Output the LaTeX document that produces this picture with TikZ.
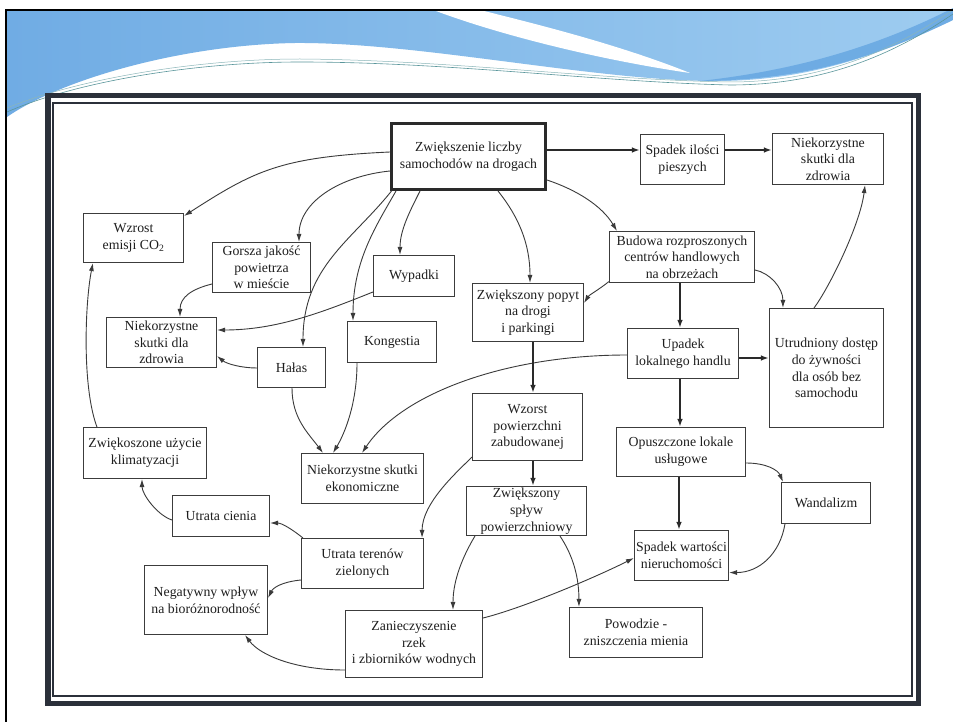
\documentclass[tikz,border=0pt]{standalone}
\usepackage{fontspec}
\setmainfont{Liberation Serif}
\usetikzlibrary{arrows.meta}
\definecolor{boxline}{HTML}{3C3C3C}
\definecolor{edge}{HTML}{3A3A3A}
\definecolor{edgedark}{HTML}{2A2A2A}
\definecolor{txt}{HTML}{1E1E1E}
\definecolor{framedark}{HTML}{2B303A}
\definecolor{hdrA}{RGB}{112,172,228}
\definecolor{hdrB}{RGB}{158,204,240}
\definecolor{hdrC}{RGB}{100,165,225}
\definecolor{teal}{RGB}{90,150,155}
\begin{document}
\begin{tikzpicture}[x=1pt,y=-1pt,
  box/.style={draw=boxline, line width=1.1pt, fill=white, inner sep=0pt, align=center,
    font=\fontsize{13.8}{16.7}\selectfont, text=txt},
  arr/.style={draw=edge, line width=0.9pt, -{Latex[length=8pt,width=5pt]}},
  tarr/.style={draw=edgedark, line width=1.8pt, -{Latex[length=8pt,width=5.5pt]}}]
\useasboundingbox (0,0) rectangle (953,722);
\fill[white] (0,0) rectangle (953,722);
% header
\shade[left color=hdrA, right color=hdrB] (7,11) -- (953,11) -- (953,20)
  .. controls (880,55) and (810,80) .. (720,81)
  .. controls (600,82) and (420,42) .. (295,43)
  .. controls (180,45) and (60,80) .. (7,117) -- cycle;
\fill[hdrC, opacity=0.8] (700,81) .. controls (810,80) and (880,55) .. (953,20) -- (953,8)
  .. controls (880,45) and (800,70) .. (700,81) -- cycle;
\fill[white] (436,11) .. controls (500,35) and (600,60) .. (690,73)
  .. controls (620,45) and (540,25) .. (484,11) -- cycle;
\draw[teal, line width=0.6pt] (7,112) .. controls (80,80) and (200,62) .. (300,62)
  .. controls (450,62) and (600,82) .. (730,85) .. controls (830,85) and (900,50) .. (953,14);
\draw[teal!70, line width=0.5pt] (7,108) .. controls (80,78) and (200,59) .. (300,59)
  .. controls (450,60) and (600,80) .. (730,82) .. controls (830,82) and (900,45) .. (953,10);
\draw[black, line width=1.3pt] (6,722) -- (6,10) -- (953,10);
% frame
\draw[framedark, line width=5.5pt] (47.75,95.75) rectangle (918.25,703.25);
\draw[framedark, line width=1.3pt] (53,103) rectangle (912,696);
% nodes
\node[box, line width=3pt, draw=edgedark, minimum width=154pt, minimum height=66pt] (central) at (468.5,156.5) {Zwiększenie liczby\\samochodów na drogach};
\node[box, minimum width=84pt, minimum height=50pt] (spadek) at (682.5,159.5) {Spadek ilości\\pieszych};
\node[box, minimum width=111pt, minimum height=51pt] (nzR) at (828,159) {Niekorzystne\\skutki dla\\zdrowia};
\node[box, minimum width=100pt, minimum height=49pt] (wzrost) at (133.5,238) {Wzrost\\emisji CO\textsubscript{2}};
\node[box, minimum width=98pt, minimum height=50pt] (gorsza) at (261.5,267.5) {Gorsza jakość\\powietrza\\w mieście};
\node[box, minimum width=81pt, minimum height=41pt] (wypadki) at (414,276) {Wypadki};
\node[box, minimum width=110pt, minimum height=50pt] (nzL) at (161.5,342.5) {Niekorzystne\\skutki dla\\zdrowia};
\node[box, minimum width=89pt, minimum height=41pt] (kongestia) at (392,342) {Kongestia};
\node[box, minimum width=68pt, minimum height=40pt] (halas) at (291.5,367.5) {Hałas};
\node[box, minimum width=145pt, minimum height=51pt] (budowa) at (682,257) {Budowa rozproszonych\\centrów handlowych\\na obrzeżach};
\node[box, minimum width=111pt, minimum height=58pt] (popyt) at (528,312.5) {Zwiększony popyt\\na drogi\\i parkingi};
\node[box, minimum width=111pt, minimum height=50pt] (upadek) at (683,353.5) {Upadek\\lokalnego handlu};
\node[box, minimum width=114pt, minimum height=119pt] (utrudniony) at (826.5,368) {Utrudniony dostęp\\do żywności\\dla osób bez\\samochodu};
\node[box, minimum width=110pt, minimum height=67pt] (wzorst) at (527.5,427) {Wzorst\\powierzchni\\zabudowanej};
\node[box, minimum width=120pt, minimum height=49pt] (splyw) at (526.5,511) {Zwiększony\\spływ\\powierzchniowy};
\node[box, minimum width=129pt, minimum height=49pt] (opuszczone) at (681,452) {Opuszczone lokale\\usługowe};
\node[box, minimum width=89pt, minimum height=41pt] (wandalizm) at (826,503) {Wandalizm};
\node[box, minimum width=94pt, minimum height=50pt] (spadekw) at (681.5,555.5) {Spadek wartości\\nieruchomości};
\node[box, minimum width=133pt, minimum height=50pt] (powodzie) at (636,632.5) {Powodzie -\\zniszczenia mienia};
\node[box, minimum width=123pt, minimum height=51pt] (klima) at (145,453) {Zwiękoszone użycie\\klimatyzacji};
\node[box, minimum width=122pt, minimum height=50pt] (nek) at (362.5,478.5) {Niekorzystne skutki\\ekonomiczne};
\node[box, minimum width=97pt, minimum height=41pt] (cienia) at (221,516) {Utrata cienia};
\node[box, minimum width=122pt, minimum height=50pt] (tereny) at (362.5,563.5) {Utrata terenów\\zielonych};
\node[box, minimum width=123pt, minimum height=69pt] (negatywny) at (206,600) {Negatywny wpływ\\na bioróżnorodność};
\node[box, minimum width=137pt, minimum height=67pt] (zan) at (414,644) {Zanieczyszenie\\rzek\\i zbiorników wodnych};
% edges
\draw[tarr] ([yshift=6.5pt]central.east) -- ([yshift=6.5pt]central.east -| spadek.west);
\draw[tarr] ([yshift=9.5pt]spadek.east) -- ([yshift=9.5pt]spadek.east -| nzR.west);
\draw[arr] ([yshift=4.5pt]central.west) .. controls +(-110,5) and +(70,-45) .. ([yshift=-3pt]wzrost.north east);
\draw[arr] ([yshift=-14.5pt]central.west) .. controls +(-50,5) and +(0,-40) .. ([xshift=37.5pt]gorsza.north);
\draw[arr] ([xshift=1.5pt]central.south west) .. controls +(-40,50) and +(0,-80) .. ([xshift=11.5pt]halas.north);
\draw[arr] ([xshift=6pt]central.south west) .. controls +(-20,35) and +(0,-60) .. ([xshift=-39pt]kongestia.north);
\draw[arr] ([xshift=30pt]central.south west) .. controls +(-10,20) and +(0,-25) .. ([xshift=-14pt]wypadki.north);
\draw[arr] ([xshift=29.5pt]central.south) .. controls +(20,25) and +(0,-40) .. ([xshift=2pt]popyt.north);
\draw[arr] ([yshift=-23.5pt]central.east) .. controls +(30,10) and +(-15,-25) .. ([xshift=8pt]budowa.north west);
\draw[arr] ([yshift=-16.5pt]gorsza.west) .. controls +(-20,5) and +(0,-20) .. ([xshift=18.5pt]nzL.north);
\draw[arr] ([yshift=-16pt]wypadki.west) .. controls +(-50,20) and +(60,0) .. ([yshift=12.5pt]nzL.east);
\draw[arr] ([yshift=-0.5pt]halas.west) .. controls +(-15,0) and +(10,8) .. ([yshift=12pt]nzL.south east);
\draw[arr] ([xshift=0.5pt]halas.south) .. controls +(0,30) and +(-15,-20) .. ([xshift=-39.5pt]nek.north);
\draw[arr] ([xshift=-35pt]kongestia.south) .. controls +(0,40) and +(12,-20) .. ([xshift=-29.5pt]nek.north);
\draw[arr] ([yshift=-1.5pt]upadek.west) .. controls +(-120,0) and +(40,-60) .. ([xshift=-0.5pt]nek.north);
\draw[arr] ([xshift=14pt]klima.north west) .. controls +(-15,-40) and +(-8,40) .. ([xshift=10pt]wzrost.south west);
\draw[arr] ([yshift=-4pt]cienia.west) .. controls +(-15,-5) and +(0,15) .. ([xshift=-3pt]klima.south);
\draw[arr] ([xshift=2pt]tereny.north west) .. controls +(-10,-8) and +(12,0) .. ([yshift=-7pt]cienia.east);
\draw[arr] ([yshift=-16.5pt]tereny.west) .. controls +(-20,2) and +(5,-10) .. ([yshift=2pt]negatywny.east);
\draw[arr] ([yshift=4pt]wzorst.south west) .. controls +(-15,15) and +(0,-35) .. ([xshift=-2pt]tereny.north east);
\draw[tarr] ([xshift=5pt]popyt.south) -- ([xshift=5pt]popyt.south |- wzorst.north);
\draw[tarr] ([xshift=5.5pt]wzorst.south) -- ([xshift=5.5pt]wzorst.south |- splyw.north);
\draw[arr] ([xshift=9pt]splyw.south west) .. controls +(-12,20) and +(0,-30) .. ([xshift=39pt]zan.north);
\draw[arr] ([xshift=33.5pt]splyw.south) .. controls +(10,15) and +(0,-35) .. ([xshift=10pt]powodzie.north west);
\draw[arr] ([yshift=-26pt]zan.west) .. controls +(-50,0) and +(15,20) .. ([xshift=39pt]negatywny.south);
\draw[arr] ([yshift=26pt]zan.east) .. controls +(40,-10) and +(-40,20) .. ([yshift=-2.5pt]spadekw.west);
\draw[arr] ([yshift=1.5pt]budowa.south west) .. controls +(-10,8) and +(5,-8) .. ([yshift=9.5pt]popyt.east);
\draw[tarr] ([xshift=-2pt]budowa.south) -- ([xshift=-2pt]budowa.south |- upadek.north);
\draw[arr] ([yshift=-13pt]budowa.east) .. controls +(15,3) and +(0,-20) .. ([xshift=14pt]utrudniony.north west);
\draw[tarr] ([yshift=-4.5pt]upadek.east) -- ([yshift=-4.5pt]upadek.east -| utrudniony.west);
\draw[arr] ([xshift=-12.5pt]utrudniony.north) .. controls +(15,-20) and +(-5,40) .. ([xshift=-19pt]nzR.south east);
\draw[tarr] ([xshift=-3pt]upadek.south) -- ([xshift=-3pt]upadek.south |- opuszczone.north);
\draw[tarr] ([xshift=-2pt]opuszczone.south) -- ([xshift=-2pt]opuszczone.south |- spadekw.north);
\draw[arr] ([yshift=-11pt]opuszczone.east) .. controls +(20,0) and +(-5,-12) .. ([xshift=2pt]wandalizm.north west);
\draw[arr] ([xshift=4pt]wandalizm.south west) .. controls +(-5,30) and +(30,0) .. ([yshift=8.5pt]spadekw.south east);
\end{tikzpicture}
\end{document}
